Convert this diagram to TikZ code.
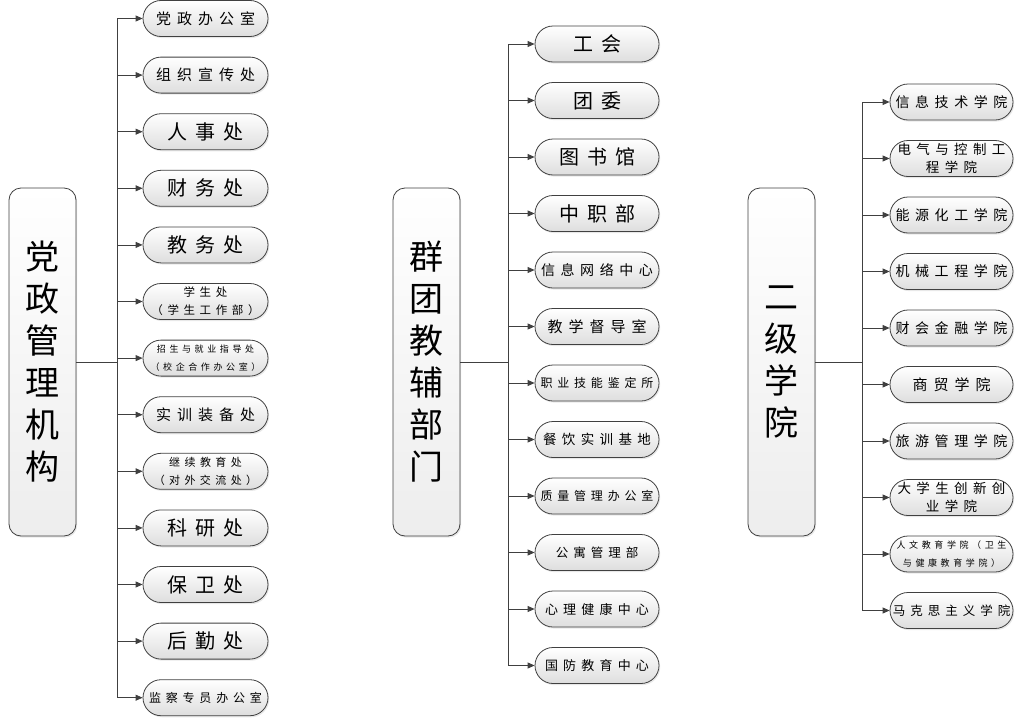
\documentclass[tikz,border=0pt]{standalone}
\usepackage{fontspec}
\newfontfamily\cjk[LetterSpace=40]{Noto Sans CJK SC}
\newfontfamily\cjkhead{Noto Sans CJK SC}
\usetikzlibrary{arrows.meta,shadows}

\begin{document}
\begin{tikzpicture}[x=1pt,y=-1pt,
  unit/.style={draw=black!75, line width=0.8pt, rounded corners=18pt,
    top color=white, bottom color=black!13, minimum width=125pt,
    minimum height=36pt, inner sep=1pt, align=center,
    drop shadow={opacity=0.18, shadow xshift=1.2pt, shadow yshift=-1.6pt}},
  head/.style={draw=black!75, line width=0.8pt, rounded corners=12pt,
    top color=white, bottom color=black!7, minimum width=67pt,
    minimum height=348pt, align=center,
    font=\cjkhead\fontsize{34}{42}\selectfont,
    drop shadow={opacity=0.18, shadow xshift=1.2pt, shadow yshift=-1.6pt}},
  link/.style={draw=black!75, line width=0.8pt, -{Triangle[length=7pt,width=6pt]}}
]
\useasboundingbox (0,0) rectangle (1017,720);

% Draw the three heads
\node[head] (L) at (42.5,362) {党\\政\\管\\理\\机\\构};
\node[head] (M) at (426.5,362) {群\\团\\教\\辅\\部\\门};
\node[head] (R) at (781.5,362) {二\\级\\学\\院};

% Junctions of the trunks
\coordinate (LJ) at (117,362);
\coordinate (MJ) at (508,362);
\coordinate (RJ) at (862,362);

% Left column
\foreach \i/\t/\s in {1/党政办公室/15, 2/组织宣传处/15, 3/人事处/20, 4/财务处/20,
  5/教务处/20, 6/{学生处\\（学生工作部）}/11.5, 7/{招生与就业指导处\\（校企合作办公室）}/9,
  8/实训装备处/15, 9/{继续教育处\\（对外交流处）}/11, 10/科研处/20, 11/保卫处/20,
  12/后勤处/20, 13/监察专员办公室/12} {
  \node[unit, font=\cjk\fontsize{\s}{18}\selectfont] (l\i) at (205.5,{18.5+56.6*(\i-1)}) {\t};
  \draw[link] (L.east) -- (LJ) |- (l\i.west);
}

% Middle column
\foreach \i/\t/\s in {1/工会/20, 2/团委/20, 3/图书馆/20, 4/中职部/20, 5/信息网络中心/14,
  6/教学督导室/15, 7/职业技能鉴定所/12, 8/餐饮实训基地/13.5, 9/质量管理办公室/12,
  10/公寓管理部/12.5, 11/心理健康中心/13, 12/国防教育中心/13} {
  \node[unit, minimum width=124pt, font=\cjk\fontsize{\s}{18}\selectfont] (m\i) at (597,{44+56.5*(\i-1)}) {\t};
  \draw[link] (M.east) -- (MJ) |- (m\i.west);
}

% Right column
\foreach \i/\t/\s in {1/信息技术学院/14, 2/{电气与控制工\\程学院}/13.5, 3/能源化工学院/14,
  4/机械工程学院/14, 5/财会金融学院/14, 6/商贸学院/15, 7/旅游管理学院/14,
  8/{大学生创新创\\业学院}/13.5, 9/{人文教育学院（卫生\\与健康教育学院）}/9,
  10/马克思主义学院/12.5} {
  \node[unit, minimum width=123pt, font=\cjk\fontsize{\s}{18}\selectfont] (r\i) at (951.5,{102+56.5*(\i-1)}) {\t};
  \draw[link] (R.east) -- (RJ) |- (r\i.west);
}
\end{tikzpicture}
\end{document}
